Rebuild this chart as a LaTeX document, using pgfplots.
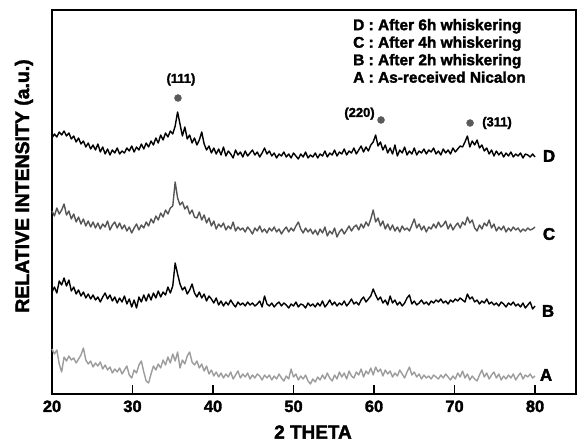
\documentclass[border=0pt]{standalone}
\usepackage{fontspec}
\setmainfont{Liberation Sans}[BoldFeatures={FakeBold=2}]
\usepackage{pgfplots}
\usepackage{pgfplotstable}
\pgfplotsset{compat=1.18}

\definecolor{cgray}{HTML}{555555}
\definecolor{agray}{HTML}{9C9C9C}
\definecolor{dotgray}{HTML}{5A5A5A}

% intensities in arbitrary (stacked) units, curves A-D
\pgfplotstableread{
x A B C D
20.0 45 102 183 256
20.3 40 107 178 260
20.6 44 101 186 257
20.9 30 113 180 262
21.2 22 109 184 259
21.5 37 116 190 263
21.8 33 108 179 258
22.1 38 114 183 261
22.4 34 103 175 255
22.7 36 107 180 258
23.0 31 100 172 252
23.3 35 104 177 256
23.6 39 98 170 250
23.9 46 102 175 253
24.2 34 96 168 247
24.5 30 100 173 251
24.8 33 95 167 245
25.1 27 99 172 249
25.4 31 94 166 244
25.7 28 97 171 250
26.0 32 92 165 242
26.3 25 97 170 247
26.6 29 101 167 240
26.9 24 95 173 245
27.2 27 99 164 239
27.5 21 93 169 244
27.8 25 97 172 241
28.1 22 91 166 246
28.4 26 96 171 240
28.7 20 92 165 243
29.0 24 98 169 241
29.3 28 90 163 246
29.6 19 95 167 243
29.9 16 87 161 248
30.2 24 94 166 242
30.5 21 86 170 247
30.8 29 97 164 244
31.1 33 92 169 250
31.4 22 99 166 245
31.7 13 93 172 251
32.0 11 100 168 247
32.3 20 94 175 253
32.6 28 101 171 249
32.9 24 96 178 256
33.2 30 103 174 251
33.5 26 97 181 259
33.8 34 102 177 254
34.1 29 99 184 261
34.4 37 107 180 257
34.7 31 101 186 263
35.0 40 108 188 260
35.3 33 131 212 268
35.6 42 120 196 282
35.9 26 110 189 270
36.2 34 104 192 258
36.5 30 107 185 267
36.8 38 100 188 255
37.1 42 104 180 259
37.4 32 110 184 251
37.7 29 101 177 256
38.0 33 97 176 249
38.3 26 102 182 254
38.6 30 96 174 262
38.9 23 100 179 250
39.2 28 93 171 244
39.5 20 98 176 248
39.8 24 95 168 241
40.1 18 91 173 246
40.4 22 96 165 240
40.7 17 89 170 245
41.0 21 93 167 239
41.3 16 88 171 247
41.6 20 92 164 238
41.9 17 89 168 243
42.2 22 94 165 240
42.5 15 90 172 236
42.8 19 87 163 244
43.1 23 92 167 239
43.4 16 89 164 242
43.7 20 91 166 237
44.0 17 88 162 243
44.3 21 92 167 238
44.6 15 89 164 241
44.9 19 91 160 244
45.2 16 88 166 239
45.5 20 90 163 242
45.8 18 93 168 237
46.1 14 87 162 241
46.4 19 98 165 246
46.7 16 90 161 240
47.0 19 88 166 243
47.3 14 91 163 238
47.6 18 87 167 241
47.9 15 90 162 236
48.2 20 92 165 240
48.5 16 88 160 238
48.8 13 91 164 242
49.1 18 89 167 237
49.4 15 86 162 240
49.7 25 90 166 236
50.0 17 88 163 241
50.3 20 92 168 238
50.6 14 87 172 235
50.9 18 90 165 240
51.2 15 89 161 237
51.5 19 86 166 242
51.8 13 91 162 236
52.1 10 88 165 239
52.4 15 90 160 237
52.7 12 87 164 241
53.0 17 91 159 236
53.3 14 88 165 240
53.6 19 93 161 238
53.9 15 87 167 243
54.2 21 90 158 237
54.5 16 94 163 241
54.8 13 89 160 239
55.1 19 92 166 244
55.4 15 88 157 238
55.7 22 91 162 242
56.0 17 89 165 240
56.3 21 93 160 245
56.6 15 88 164 239
56.9 23 91 168 243
57.2 18 95 163 241
57.5 16 90 167 246
57.8 22 92 169 240
58.1 19 89 164 244
58.4 25 94 170 248
58.7 17 97 166 242
59.0 23 92 172 247
59.3 20 95 168 243
59.6 26 98 175 249
59.9 19 105 184 252
60.2 27 99 172 259
60.5 22 94 176 248
60.8 25 97 168 252
61.1 18 91 173 244
61.4 24 94 165 249
61.7 20 89 170 241
62.0 23 98 164 246
62.3 17 91 169 240
62.6 21 94 163 249
62.9 18 89 167 238
63.2 24 92 162 244
63.5 20 88 168 241
63.8 16 91 164 247
64.1 22 96 166 239
64.4 27 99 163 243
64.7 19 90 169 240
65.0 22 93 175 246
65.3 17 89 166 239
65.6 20 91 170 243
65.9 15 94 164 241
66.2 19 90 168 245
66.5 16 92 162 240
66.8 18 89 167 244
67.1 15 93 165 242
67.4 19 91 170 246
67.7 17 94 166 240
68.0 15 92 172 243
68.3 19 95 167 239
68.6 16 91 169 245
68.9 20 93 173 241
69.2 17 90 165 244
69.5 14 94 170 240
69.8 18 92 164 246
70.1 15 95 168 242
70.4 21 93 171 245
70.7 17 96 166 248
71.0 23 94 172 247
71.3 16 92 169 252
71.6 20 100 177 258
71.9 14 95 171 247
72.2 18 97 174 253
72.5 15 92 166 249
72.8 13 94 163 254
73.1 19 90 169 246
73.4 24 93 165 249
73.7 17 91 171 243
74.0 21 95 168 246
74.3 15 90 174 240
74.6 19 92 166 244
74.9 22 89 170 238
75.2 16 91 163 243
75.5 20 88 167 239
75.8 14 92 164 242
76.1 18 90 168 237
76.4 15 87 162 241
76.7 19 91 166 238
77.0 16 89 163 242
77.3 20 92 167 237
77.6 14 88 164 240
77.9 18 90 166 238
78.2 21 87 162 241
78.5 15 91 165 236
78.8 19 86 163 240
79.1 17 89 166 239
79.4 20 92 164 237
79.7 16 85 165 240
80.0 18 88 167 237
}\xrd

\begin{document}
\begin{tikzpicture}
\begin{axis}[
    name=ax,
    scale only axis,
    width=524bp, height=384bp,
    xmin=20, xmax=85.09,
    ymin=0, ymax=384,
    axis line style={line width=1.3bp},
    xtick={20,30,...,80},
    ytick=\empty,
    xtick pos=bottom,
    tick align=inside,
    major tick length=9bp,
    tick style={line width=1.3bp, black},
    xticklabel style={font=\fontsize{16.5}{18}\selectfont\bfseries, yshift=-3bp},
    /pgf/number format/assume math mode=true,
    clip=false,
]
\addplot[color=agray, line width=1.4bp, line join=round] table[x=x, y=A] {\xrd};
\addplot[color=black, line width=1.4bp, line join=round] table[x=x, y=B] {\xrd};
\addplot[color=cgray, line width=1.4bp, line join=round] table[x=x, y=C] {\xrd};
\addplot[color=black, line width=1.4bp, line join=round] table[x=x, y=D] {\xrd};

% SiC reflections
\addplot[only marks, mark=*, mark size=3.5bp, color=dotgray] coordinates {
    (35.65,296) (60.87,274) (71.93,271)
};
\node[font=\fontsize{13}{15}\selectfont\bfseries] at (axis cs:36.02,314.5) {(111)};
\node[font=\fontsize{13}{15}\selectfont\bfseries] at (axis cs:58.2,280.4) {(220)};
\node[font=\fontsize{13}{15}\selectfont\bfseries] at (axis cs:75.28,271) {(311)};

% curve letters
\node[font=\fontsize{17}{18}\selectfont\bfseries] at (axis cs:81.74,238) {D};
\node[font=\fontsize{17}{18}\selectfont\bfseries] at (axis cs:81.74,160) {C};
\node[font=\fontsize{17}{18}\selectfont\bfseries] at (axis cs:81.62,83) {B};
\node[font=\fontsize{17}{18}\selectfont\bfseries] at (axis cs:81.37,19) {A};

% key
\node[anchor=base west, inner sep=0pt, font=\fontsize{15.5}{17}\selectfont\bfseries] at (axis cs:57.39,363.8) {D : After 6h whiskering};
\node[anchor=base west, inner sep=0pt, font=\fontsize{15.5}{17}\selectfont\bfseries] at (axis cs:57.39,346.3) {C : After 4h whiskering};
\node[anchor=base west, inner sep=0pt, font=\fontsize{15.5}{17}\selectfont\bfseries] at (axis cs:57.39,328.8) {B : After 2h whiskering};
\node[anchor=base west, inner sep=0pt, font=\fontsize{15.5}{17}\selectfont\bfseries] at (axis cs:57.39,311.3) {A : As-received Nicalon};

% axis titles
\node[font=\fontsize{19}{21}\selectfont\bfseries] at (axis cs:52.42,-38) {2 THETA};
\node[rotate=90, font=\fontsize{19.5}{21}\selectfont\bfseries] at (axis cs:16.52,208) {RELATIVE INTENSITY (a.u.)};
\end{axis}
\pgfresetboundingbox
\path[use as bounding box] ([xshift=-52bp,yshift=-50bp]ax.south west) rectangle ([xshift=1bp,yshift=10bp]ax.north east);
\end{tikzpicture}
\end{document}
